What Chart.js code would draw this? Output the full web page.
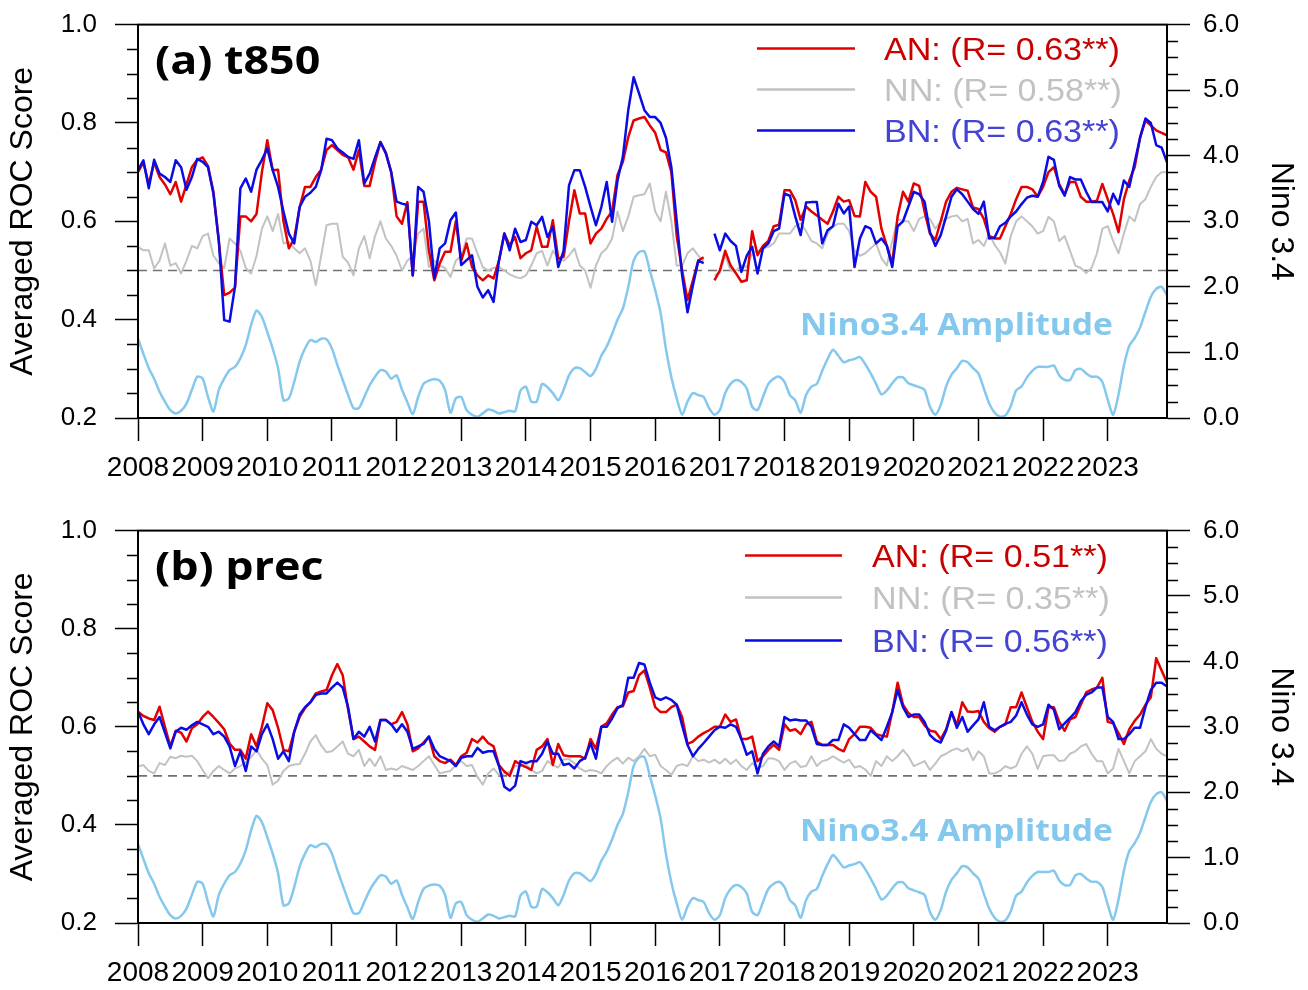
<!DOCTYPE html>
<html>
<head>
<meta charset="utf-8">
<script src="https://cdn.jsdelivr.net/npm/chart.js@4.4.1/dist/chart.umd.min.js"></script>
<style>
  html, body { margin: 0; padding: 0; background: #fff; }
  #wrap { position: relative; width: 1308px; height: 990px; overflow: hidden; }
  canvas { position: absolute; left: 0; }
  #c1 { top: -9px; }
  #c2 { top: 497px; }
</style>
</head>
<body>
<div id="wrap">
  <canvas id="c1" width="1308" height="504"></canvas>
  <canvas id="c2" width="1308" height="493"></canvas>
</div>
<script>
// ROC score time series (monthly, Jan 2008 - Dec 2023) with Nino3.4 amplitude

const START_YEAR = 2008;
const REF_SCORE = 0.5;
const SERIES_NAMES = ['AN', 'NN', 'BN'];
const T850_R = ['0.63', '0.58', '0.63'];
const PREC_R = ['0.51', '0.35', '0.56'];

// Nino3.4 amplitude (right axis), same in both panels
const NINO34 = [
  1.21, 0.98, 0.76, 0.60, 0.40, 0.25, 0.12, 0.07, 0.11, 0.22, 0.43, 0.63,
  0.60, 0.32, 0.10, 0.43, 0.60, 0.73, 0.78, 0.91, 1.11, 1.42, 1.64, 1.54,
  1.31, 1.06, 0.76, 0.27, 0.30, 0.55, 0.86, 1.06, 1.19, 1.16, 1.21, 1.20,
  1.06, 0.81, 0.58, 0.35, 0.15, 0.15, 0.32, 0.50, 0.63, 0.73, 0.71, 0.60,
  0.65, 0.43, 0.24, 0.06, 0.32, 0.52, 0.57, 0.59, 0.57, 0.43, 0.08, 0.30,
  0.32, 0.12, 0.05, 0.02, 0.07, 0.13, 0.11, 0.07, 0.09, 0.11, 0.10, 0.42,
  0.48, 0.25, 0.25, 0.52, 0.47, 0.38, 0.27, 0.43, 0.65, 0.76, 0.76, 0.70,
  0.64, 0.75, 0.95, 1.09, 1.28, 1.50, 1.67, 2.00, 2.40, 2.53, 2.54, 2.25,
  1.95, 1.60, 1.05, 0.62, 0.30, 0.05, 0.25, 0.38, 0.35, 0.32, 0.15, 0.05,
  0.12, 0.38, 0.52, 0.58, 0.55, 0.45, 0.17, 0.12, 0.32, 0.52, 0.60, 0.63,
  0.55, 0.35, 0.27, 0.08, 0.35, 0.48, 0.52, 0.72, 0.90, 1.04, 0.95, 0.85,
  0.88, 0.90, 0.93, 0.82, 0.68, 0.52, 0.36, 0.42, 0.53, 0.62, 0.62, 0.53,
  0.50, 0.47, 0.43, 0.17, 0.05, 0.20, 0.48, 0.66, 0.76, 0.87, 0.85, 0.76,
  0.68, 0.45, 0.22, 0.08, 0.02, 0.04, 0.18, 0.42, 0.48, 0.62, 0.72, 0.78,
  0.78, 0.78, 0.80, 0.65, 0.58, 0.58, 0.73, 0.75, 0.68, 0.63, 0.63, 0.55,
  0.28, 0.05, 0.36, 0.80, 1.10, 1.22, 1.38, 1.62, 1.85, 1.97, 2.00, 1.87
];

// (a) t850
const T850_AN = [
  0.700, 0.720, 0.675, 0.720, 0.690, 0.675, 0.655, 0.680, 0.640, 0.675, 0.710, 0.725,
  0.730, 0.712, 0.660, 0.560, 0.450, 0.455, 0.465, 0.610, 0.610, 0.600, 0.615, 0.700,
  0.765, 0.704, 0.705, 0.600, 0.545, 0.565, 0.628, 0.670, 0.670, 0.690, 0.705, 0.745,
  0.755, 0.745, 0.735, 0.730, 0.705, 0.745, 0.672, 0.672, 0.720, 0.761, 0.740, 0.700,
  0.610, 0.595, 0.639, 0.490, 0.640, 0.640, 0.540, 0.480, 0.514, 0.538, 0.538, 0.600,
  0.520, 0.555, 0.507, 0.490, 0.480, 0.490, 0.484, 0.520, 0.575, 0.551, 0.568, 0.525,
  0.535, 0.541, 0.589, 0.548, 0.548, 0.602, 0.524, 0.528, 0.600, 0.663, 0.616, 0.616,
  0.555, 0.575, 0.585, 0.605, 0.620, 0.694, 0.721, 0.771, 0.805, 0.809, 0.812, 0.795,
  0.780, 0.745, 0.740, 0.700, 0.570, 0.500, 0.440, 0.480, 0.520, 0.527, null, 0.480,
  0.500, 0.540, 0.510, 0.494, 0.477, 0.480, 0.580, 0.531, 0.550, 0.560, 0.590, 0.593,
  0.663, 0.663, 0.643, 0.603, 0.630, 0.620, 0.612, 0.603, 0.595, 0.620, 0.650, 0.640,
  0.643, 0.611, 0.610, 0.680, 0.660, 0.650, 0.585, 0.550, 0.514, 0.610, 0.660, 0.640,
  0.677, 0.672, 0.620, 0.575, 0.562, 0.600, 0.640, 0.660, 0.668, 0.665, 0.662, 0.628,
  0.625, 0.605, 0.570, 0.565, 0.565, 0.590, 0.615, 0.645, 0.670, 0.670, 0.665, 0.650,
  0.670, 0.700, 0.710, 0.675, 0.655, 0.680, 0.680, 0.650, 0.640, 0.640, 0.642, 0.676,
  0.645, 0.615, 0.578, 0.645, 0.683, 0.710, 0.770, 0.805, 0.795, 0.785, 0.780, 0.775
];
const T850_NN = [
  0.548, 0.541, 0.541, 0.504, 0.520, 0.555, 0.510, 0.515, 0.494, 0.520, 0.550, 0.545,
  0.570, 0.575, 0.530, 0.515, 0.505, 0.565, 0.555, 0.540, 0.505, 0.494, 0.530, 0.585,
  0.610, 0.580, 0.615, 0.555, 0.558, 0.545, 0.535, 0.545, 0.520, 0.470, 0.530, 0.592,
  0.595, 0.595, 0.528, 0.516, 0.490, 0.545, 0.570, 0.525, 0.570, 0.600, 0.565, 0.550,
  0.530, 0.500, 0.520, 0.530, 0.575, 0.585, 0.507, 0.520, 0.510, 0.505, 0.487, 0.520,
  0.530, 0.565, 0.565, 0.535, 0.507, 0.500, 0.505, 0.507, 0.500, 0.492, 0.487, 0.484,
  0.490, 0.510, 0.535, 0.540, 0.510, 0.540, 0.525, 0.520, 0.530, 0.545, 0.510, 0.500,
  0.465, 0.510, 0.535, 0.545, 0.565, 0.620, 0.580, 0.610, 0.650, 0.653, 0.655, 0.677,
  0.620, 0.600, 0.660, 0.600, 0.510, 0.510, 0.535, 0.545, 0.530, 0.520, null, 0.490,
  0.495, 0.530, 0.500, 0.500, 0.510, 0.507, 0.535, 0.540, 0.545, 0.548, 0.555, 0.575,
  0.575, 0.575, 0.590, 0.596, 0.580, 0.560, 0.555, 0.545, 0.575, 0.590, 0.595, 0.595,
  0.580, 0.540, 0.530, 0.535, 0.545, 0.555, 0.525, 0.510, 0.560, 0.605, 0.600, 0.600,
  0.580, 0.605, 0.610, 0.605, 0.585, 0.600, 0.605, 0.610, 0.612, 0.600, 0.605, 0.555,
  0.562, 0.550, 0.575, 0.552, 0.537, 0.514, 0.570, 0.600, 0.610, 0.600, 0.590, 0.575,
  0.580, 0.609, 0.600, 0.560, 0.570, 0.540, 0.510, 0.505, 0.495, 0.505, 0.535, 0.585,
  0.590, 0.560, 0.535, 0.575, 0.610, 0.600, 0.635, 0.645, 0.670, 0.690, 0.700, 0.700
];
const T850_BN = [
  0.704, 0.724, 0.667, 0.725, 0.697, 0.690, 0.680, 0.724, 0.710, 0.664, 0.690, 0.727,
  0.721, 0.710, 0.656, 0.560, 0.399, 0.396, 0.467, 0.667, 0.687, 0.660, 0.705, 0.725,
  0.748, 0.704, 0.670, 0.620, 0.575, 0.555, 0.629, 0.650, 0.658, 0.670, 0.704, 0.768,
  0.765, 0.748, 0.740, 0.731, 0.727, 0.765, 0.677, 0.697, 0.730, 0.761, 0.738, 0.700,
  0.640, 0.636, 0.633, 0.490, 0.670, 0.660, 0.600, 0.484, 0.545, 0.555, 0.602, 0.618,
  0.511, 0.521, 0.531, 0.467, 0.445, 0.460, 0.436, 0.520, 0.575, 0.541, 0.585, 0.558,
  0.562, 0.599, 0.592, 0.609, 0.568, 0.589, 0.507, 0.540, 0.673, 0.704, 0.704, 0.670,
  0.630, 0.592, 0.629, 0.680, 0.599, 0.683, 0.731, 0.826, 0.893, 0.860, 0.826, 0.812,
  0.812, 0.800, 0.770, 0.710, 0.600, 0.490, 0.415, 0.470, 0.520, 0.515, null, 0.575,
  0.541, 0.575, 0.560, 0.550, 0.497, 0.530, 0.548, 0.494, 0.545, 0.555, 0.580, 0.585,
  0.656, 0.652, 0.610, 0.572, 0.638, 0.639, 0.639, 0.555, 0.582, 0.590, 0.636, 0.616,
  0.630, 0.507, 0.565, 0.590, 0.585, 0.555, 0.565, 0.550, 0.507, 0.590, 0.600, 0.630,
  0.660, 0.655, 0.640, 0.578, 0.550, 0.572, 0.610, 0.650, 0.665, 0.655, 0.640, 0.625,
  0.615, 0.640, 0.565, 0.567, 0.590, 0.597, 0.610, 0.620, 0.635, 0.648, 0.652, 0.650,
  0.680, 0.731, 0.725, 0.672, 0.652, 0.690, 0.685, 0.685, 0.660, 0.639, 0.639, 0.639,
  0.620, 0.656, 0.635, 0.683, 0.670, 0.720, 0.770, 0.809, 0.800, 0.755, 0.750, 0.720
];

// (b) prec
const PREC_AN = [
  0.631, 0.622, 0.617, 0.614, 0.641, 0.600, 0.560, 0.592, 0.588, 0.570, 0.597, 0.605,
  0.620, 0.631, 0.620, 0.608, 0.595, 0.566, 0.553, 0.553, 0.535, 0.585, 0.560, 0.600,
  0.648, 0.634, 0.598, 0.553, 0.550, 0.590, 0.620, 0.638, 0.650, 0.668, 0.672, 0.675,
  0.705, 0.728, 0.705, 0.635, 0.575, 0.580, 0.570, 0.560, 0.553, 0.614, 0.614, 0.605,
  0.610, 0.630, 0.605, 0.550, 0.556, 0.568, 0.580, 0.540, 0.530, 0.526, 0.533, 0.522,
  0.540, 0.547, 0.575, 0.568, 0.580, 0.567, 0.560, 0.522, 0.509, 0.500, 0.530, 0.523,
  0.518, 0.512, 0.553, 0.560, 0.575, 0.522, 0.565, 0.542, 0.540, 0.540, 0.540, 0.535,
  0.575, 0.555, 0.600, 0.607, 0.625, 0.640, 0.642, 0.670, 0.673, 0.705, 0.715, 0.680,
  0.640, 0.630, 0.630, 0.640, 0.645, 0.620, 0.565, 0.570, 0.580, 0.587, 0.593, 0.600,
  0.600, 0.625, 0.610, 0.615, 0.575, 0.575, 0.580, 0.530, 0.540, 0.553, 0.563, 0.553,
  0.605, 0.592, 0.595, 0.585, 0.605, 0.610, 0.570, 0.563, 0.563, 0.563, 0.555, 0.550,
  0.575, 0.585, 0.600, 0.600, 0.598, 0.585, 0.582, 0.580, 0.630, 0.690, 0.645, 0.628,
  0.620, 0.620, 0.603, 0.592, 0.590, 0.575, 0.595, 0.630, 0.603, 0.650, 0.631, 0.630,
  0.632, 0.610, 0.597, 0.590, 0.600, 0.605, 0.640, 0.640, 0.670, 0.640, 0.610, 0.590,
  0.575, 0.640, 0.640, 0.610, 0.592, 0.615, 0.620, 0.645, 0.670, 0.676, 0.680, 0.700,
  0.610, 0.607, 0.587, 0.565, 0.595, 0.612, 0.625, 0.645, 0.660, 0.740, 0.715, 0.690
];
const PREC_NN = [
  0.519, 0.522, 0.510, 0.505, 0.526, 0.522, 0.539, 0.536, 0.541, 0.539, 0.541, 0.530,
  0.512, 0.495, 0.510, 0.520, 0.512, 0.505, 0.515, 0.520, 0.528, 0.538, 0.553, 0.535,
  0.522, 0.482, 0.490, 0.510, 0.520, 0.523, 0.524, 0.545, 0.570, 0.583, 0.562, 0.548,
  0.550, 0.560, 0.570, 0.545, 0.540, 0.553, 0.520, 0.535, 0.520, 0.540, 0.512, 0.515,
  0.512, 0.520, 0.516, 0.512, 0.520, 0.530, 0.540, 0.522, 0.505, 0.508, 0.510, 0.522,
  0.530, 0.520, 0.522, 0.498, 0.482, 0.505, 0.515, 0.502, 0.505, 0.508, 0.520, 0.520,
  0.524, 0.512, 0.505, 0.510, 0.530, 0.522, 0.517, 0.534, 0.534, 0.526, 0.515, 0.509,
  0.512, 0.510, 0.505, 0.520, 0.530, 0.537, 0.525, 0.537, 0.530, 0.540, 0.555, 0.540,
  0.543, 0.520, 0.512, 0.502, 0.520, 0.524, 0.520, 0.540, 0.530, 0.533, 0.527, 0.533,
  0.525, 0.535, 0.524, 0.533, 0.520, 0.512, 0.526, 0.516, 0.520, 0.536, 0.535, 0.530,
  0.512, 0.525, 0.530, 0.518, 0.520, 0.540, 0.520, 0.530, 0.533, 0.540, 0.533, 0.527,
  0.533, 0.517, 0.520, 0.513, 0.500, 0.530, 0.520, 0.540, 0.530, 0.540, 0.553, 0.540,
  0.520, 0.525, 0.530, 0.512, 0.525, 0.540, 0.545, 0.552, 0.556, 0.550, 0.556, 0.532,
  0.550, 0.540, 0.505, 0.505, 0.510, 0.520, 0.515, 0.520, 0.545, 0.560, 0.545, 0.514,
  0.540, 0.542, 0.542, 0.530, 0.532, 0.545, 0.550, 0.560, 0.565, 0.545, 0.530, 0.530,
  0.505, 0.515, 0.555, 0.530, 0.505, 0.530, 0.540, 0.550, 0.575, 0.555, 0.545, 0.540
];
const PREC_BN = [
  0.631, 0.605, 0.585, 0.605, 0.620, 0.588, 0.556, 0.590, 0.598, 0.594, 0.603, 0.610,
  0.605, 0.600, 0.585, 0.590, 0.580, 0.560, 0.520, 0.550, 0.510, 0.560, 0.550, 0.585,
  0.605, 0.575, 0.535, 0.550, 0.530, 0.590, 0.625, 0.640, 0.650, 0.665, 0.668, 0.668,
  0.680, 0.690, 0.680, 0.640, 0.575, 0.590, 0.580, 0.600, 0.570, 0.614, 0.614, 0.605,
  0.590, 0.605, 0.590, 0.555, 0.560, 0.565, 0.580, 0.555, 0.540, 0.535, 0.530, 0.520,
  0.537, 0.540, 0.540, 0.557, 0.547, 0.550, 0.550, 0.520, 0.478, 0.470, 0.480, 0.530,
  0.526, 0.530, 0.530, 0.545, 0.570, 0.545, 0.545, 0.522, 0.525, 0.515, 0.530, 0.537,
  0.567, 0.535, 0.600, 0.600, 0.617, 0.638, 0.645, 0.700, 0.700, 0.730, 0.727, 0.690,
  0.660, 0.655, 0.660, 0.655, 0.645, 0.603, 0.563, 0.540, 0.555, 0.567, 0.580, 0.593,
  0.600, 0.598, 0.605, 0.600, 0.575, 0.543, 0.550, 0.505, 0.545, 0.560, 0.570, 0.560,
  0.620, 0.613, 0.615, 0.613, 0.613, 0.600, 0.565, 0.563, 0.563, 0.573, 0.573, 0.605,
  0.598, 0.585, 0.573, 0.573, 0.593, 0.583, 0.573, 0.600, 0.630, 0.675, 0.640, 0.620,
  0.625, 0.625, 0.610, 0.583, 0.573, 0.568, 0.592, 0.630, 0.598, 0.620, 0.590, 0.603,
  0.615, 0.650, 0.600, 0.593, 0.600, 0.606, 0.610, 0.623, 0.650, 0.625, 0.605, 0.600,
  0.605, 0.645, 0.635, 0.595, 0.607, 0.618, 0.630, 0.652, 0.665, 0.670, 0.680, 0.680,
  0.620, 0.610, 0.575, 0.575, 0.585, 0.598, 0.598, 0.640, 0.675, 0.690, 0.690, 0.682
];

const LINE_COLORS = { AN: '#e30000', NN: '#c2c2c2', BN: '#0b0be3', nino: '#84c8ee' };
const TEXT_COLORS = { AN: '#c80000', NN: '#c2c2c2', BN: '#4343d4' };

const months = NINO34.map((_, i) => START_YEAR + i / 12);
const xy = vals => vals.map((v, i) => ({ x: months[i], y: v }));

function stretchText(ctx, text, x, y, font, color, sx) {
  ctx.save();
  ctx.translate(x, y);
  ctx.scale(sx, 1);
  ctx.font = font;
  ctx.fillStyle = color;
  ctx.textBaseline = 'middle';
  ctx.textAlign = 'left';
  ctx.fillText(text, 0, 0);
  ctx.restore();
}

// dashed reference line, frame, minor ticks, panel title, legend, Nino label
const panelDecor = {
  id: 'panelDecor',
  beforeDatasetsDraw(chart) {
    const { ctx, chartArea: a, scales } = chart;
    const y = scales.y.getPixelForValue(REF_SCORE);
    ctx.save();
    ctx.strokeStyle = '#707070';
    ctx.lineWidth = 1.6;
    ctx.setLineDash([9, 6]);
    ctx.beginPath();
    ctx.moveTo(a.left, y);
    ctx.lineTo(a.right, y);
    ctx.stroke();
    ctx.restore();
  },
  afterDraw(chart, args, o) {
    const { ctx, chartArea: a, scales } = chart;
    ctx.save();
    ctx.strokeStyle = '#000';
    ctx.lineWidth = 2;
    ctx.strokeRect(a.left, a.top, a.width, a.height);

    // minor ticks
    ctx.lineWidth = 1.5;
    ctx.beginPath();
    for (let k = 4; k <= 20; k++) {
      if (k % 4 === 0) continue;
      const py = Math.round(scales.y.getPixelForValue(k / 20)) + 0.5;
      ctx.moveTo(a.left - 11, py);
      ctx.lineTo(a.left, py);
    }
    for (let k = 0; k <= 24; k++) {
      if (k % 4 === 0) continue;
      const py = Math.round(scales.y2.getPixelForValue(k / 4)) + 0.5;
      ctx.moveTo(a.right, py);
      ctx.lineTo(a.right + 11, py);
    }
    ctx.stroke();
    ctx.restore();

    stretchText(ctx, o.title, a.left + 17, a.top + 38,
      'bold 40px "Open Sans", "Noto Sans", sans-serif', '#000', 1.12);

    o.rows.forEach((dy, i) => {
      const name = SERIES_NAMES[i];
      const y = a.top + dy;
      ctx.save();
      ctx.strokeStyle = LINE_COLORS[name];
      ctx.lineWidth = 2.5;
      ctx.beginPath();
      ctx.moveTo(o.lineX0, y - 3);
      ctx.lineTo(o.lineX1, y - 3);
      ctx.stroke();
      ctx.restore();
      stretchText(ctx, `${name}: (R= ${o.r[i]}**)`, o.textX, y,
        '31px "Liberation Sans", Arial, sans-serif', TEXT_COLORS[name], 1.1);
    });

    stretchText(ctx, 'Nino3.4 Amplitude', 800, a.top + 302,
      'bold 30px "Open Sans", "Noto Sans", sans-serif', LINE_COLORS.nino, 1.12);
  }
};

function makePanel(canvasId, an, nn, bn, rVals, title, legend, xAxisHeight) {
  const tickFont = { family: '"Liberation Sans", Arial, sans-serif', size: 26 };
  return new Chart(document.getElementById(canvasId), {
    type: 'line',
    data: {
      datasets: [
        { label: 'BN', data: xy(bn), borderColor: LINE_COLORS.BN, borderWidth: 2.5, order: 1 },
        { label: 'AN', data: xy(an), borderColor: LINE_COLORS.AN, borderWidth: 2.5, order: 2 },
        { label: 'NN', data: xy(nn), borderColor: LINE_COLORS.NN, borderWidth: 2, order: 3 },
        { label: 'Nino3.4', data: xy(NINO34), borderColor: LINE_COLORS.nino, borderWidth: 2.5,
          yAxisID: 'y2', tension: 0.25, order: 4 },
      ],
    },
    options: {
      responsive: false,
      animation: false,
      spanGaps: false,
      elements: { point: { radius: 0 }, line: { tension: 0, borderJoinStyle: 'round' } },
      layout: { padding: { top: 15, left: 0, right: 0, bottom: 0 } },
      plugins: {
        legend: { display: false },
        tooltip: { enabled: false },
        panelDecor: { title, r: rVals, ...legend },
      },
      scales: {
        x: {
          type: 'linear',
          min: START_YEAR,
          max: START_YEAR + (NINO34.length - 1) / 12,
          border: { color: '#000', width: 2 },
          grid: { drawOnChartArea: false, tickLength: 23, tickColor: '#000', tickWidth: 1.5 },
          ticks: {
            stepSize: 1, includeBounds: false, autoSkip: false, maxRotation: 0, minRotation: 0,
            padding: 10, color: '#000',
            font: { family: '"Liberation Sans", Arial, sans-serif', size: 28 },
            callback: v => String(v),
          },
          afterFit: s => { s.height = xAxisHeight; },
        },
        y: {
          position: 'left',
          min: 0.2, max: 1.0,
          border: { color: '#000', width: 2 },
          grid: { drawOnChartArea: false, tickLength: 23, tickColor: '#000', tickWidth: 1.5 },
          ticks: { stepSize: 0.2, padding: 18, color: '#000', font: tickFont,
                   callback: v => v.toFixed(1) },
          title: { display: true, text: 'Averaged ROC Score', color: '#000',
                   font: { family: '"Liberation Sans", Arial, sans-serif', size: 32 },
                   padding: { top: 4, bottom: 0 } },
          afterFit: s => { s.width = 138; },
        },
        y2: {
          position: 'right',
          min: 0, max: 6,
          border: { color: '#000', width: 2 },
          grid: { drawOnChartArea: false, tickLength: 23, tickColor: '#000', tickWidth: 1.5 },
          ticks: { stepSize: 1, padding: 13, color: '#000', font: tickFont,
                   callback: v => v.toFixed(1) },
          title: { display: true, text: 'Nino 3.4', color: '#000',
                   font: { family: '"Liberation Sans", Arial, sans-serif', size: 32 },
                   padding: { top: 8, bottom: 0 } },
          afterFit: s => { s.width = 141; },
        },
      },
    },
    plugins: [panelDecor],
  });
}

makePanel('c1', T850_AN, T850_NN, T850_BN, T850_R, '(a) t850',
  { lineX0: 757, lineX1: 855, textX: 884, rows: [27, 68, 109] }, 77);
makePanel('c2', PREC_AN, PREC_NN, PREC_BN, PREC_R, '(b) prec',
  { lineX0: 745, lineX1: 842, textX: 872, rows: [28, 70, 113] }, 67);
</script>
</body>
</html>
